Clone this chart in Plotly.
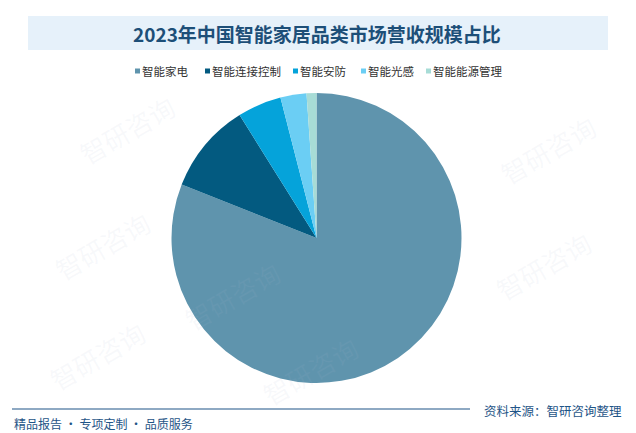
import plotly.graph_objects as go

categories = ["智能家电", "智能连接控制", "智能安防", "智能光感", "智能能源管理"]
shares = [81.0, 10.1, 4.9, 2.9, 1.1]
colors = ["#5F94AD", "#035A80", "#05A3DA", "#6BCEF4", "#A7DCD6"]

W, H = 636, 433

fig = go.Figure()
fig.add_trace(go.Pie(
    labels=categories, values=shares, sort=False, direction="clockwise", rotation=0,
    marker=dict(colors=colors, line=dict(width=0)),
    textinfo="none", hoverinfo="label+percent", showlegend=False,
    domain=dict(x=[171.5 / W, 461.5 / W], y=[(H - 383) / H, (H - 93) / H]),
))

def px(x):
    return x / W

def py(y):
    return 1 - y / H

shapes = []
annotations = []

# title band
shapes.append(dict(type="rect", xref="paper", yref="paper", x0=px(28), x1=px(608), y0=py(50), y1=py(16),
                   fillcolor="#E6F1FA", line=dict(width=0), layer="below"))
annotations.append(dict(text="<b>2023年中国智能家居品类市场营收规模占比</b>", x=px(317), y=py(33), xref="paper", yref="paper",
                        showarrow=False, xanchor="center", yanchor="middle",
                        font=dict(family="Noto Sans CJK SC", size=19, color="#1D4F78")))

# legend
leg_x = [135, 205, 293, 361, 426]
for name, col, lx in zip(categories, colors, leg_x):
    shapes.append(dict(type="rect", xref="paper", yref="paper", x0=px(lx), x1=px(lx + 5), y0=py(73.5), y1=py(68.5),
                       fillcolor=col, line=dict(width=0)))
    annotations.append(dict(text=name, x=px(lx + 5), y=py(71), xref="paper", yref="paper", showarrow=False,
                            xanchor="left", yanchor="middle",
                            font=dict(family="Noto Sans CJK SC", size=11.5, color="#333333")))

# footer
shapes.append(dict(type="line", xref="paper", yref="paper", x0=px(12), x1=px(470), y0=py(409), y1=py(409),
                   line=dict(color="#1F5587", width=1.2)))
annotations.append(dict(text="精品报告 · 专项定制 · 品质服务", x=px(12), y=py(423), xref="paper", yref="paper",
                        showarrow=False, xanchor="left", yanchor="middle",
                        font=dict(family="Noto Sans CJK SC", size=12, color="#1F5587")))
annotations.append(dict(text="资料来源：智研咨询整理", x=px(624), y=py(410), xref="paper", yref="paper",
                        showarrow=False, xanchor="right", yanchor="middle",
                        font=dict(family="Noto Sans CJK SC", size=12.5, color="#1F5587")))

# watermarks
wm = [(70, 85), (605, 105), (45, 245), (600, 265), (175, 340), (310, 415), (40, 400)]
for wx, wy in wm:
    annotations.append(dict(text="智研咨询", x=px(wx), y=py(wy), xref="paper", yref="paper", showarrow=False,
                            textangle=-30, font=dict(family="Noto Sans CJK SC", size=26, color="rgba(170,190,210,0.09)")))

fig.update_layout(
    width=W, height=H, margin=dict(l=0, r=0, t=0, b=0),
    paper_bgcolor="white", plot_bgcolor="white",
    shapes=shapes, annotations=annotations,
)

html = fig.to_html(include_plotlyjs=True, full_html=True, config={"displayModeBar": False})
html = html.replace("<body>", '<body style="margin:0;padding:0;overflow:hidden">', 1)
html = html.replace("<head>", "<head><style>html,body{margin:0;padding:0;}</style>", 1)
with open("out.html", "w", encoding="utf-8") as f:
    f.write(html)
